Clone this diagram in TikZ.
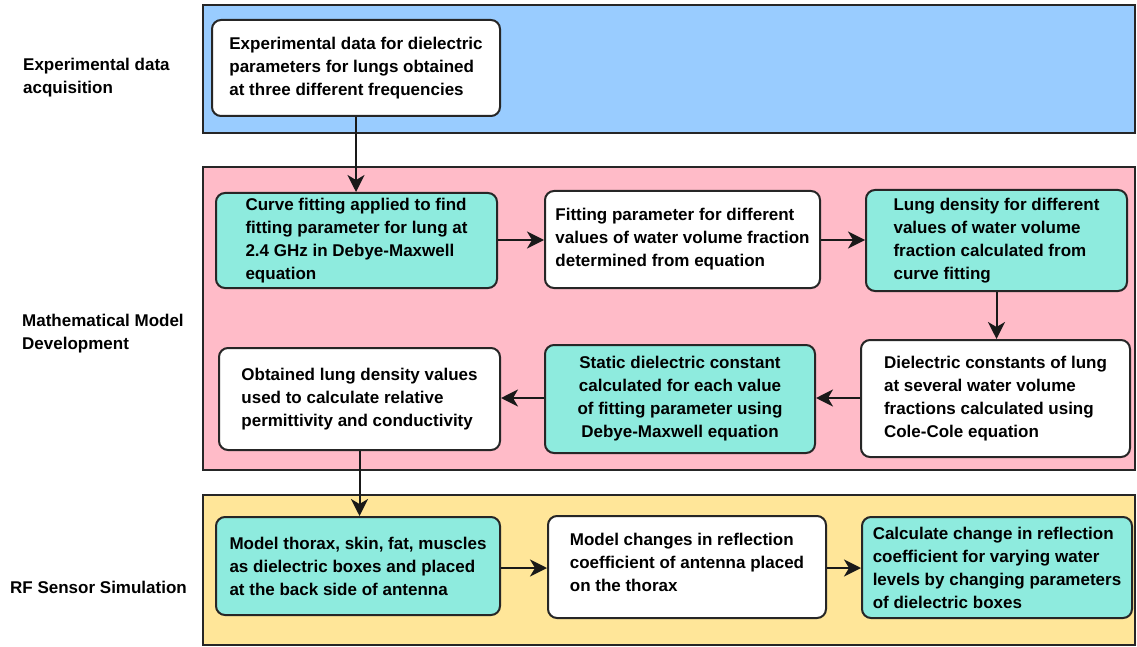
\documentclass[tikz,border=0pt]{standalone}
\usepackage{fontspec}
\setmainfont{Liberation Sans}
\usetikzlibrary{arrows.meta}
\definecolor{laneblue}{RGB}{153,204,255}
\definecolor{lanepink}{RGB}{255,187,200}
\definecolor{laneyellow}{RGB}{255,230,153}
\definecolor{teal}{RGB}{142,235,222}
\tikzset{
  lane/.style={draw=black!85, line width=2pt},
  box/.style={draw=black!85, line width=2pt, rounded corners=9pt, fill=white,
    font=\fontsize{17}{23}\selectfont\bfseries, align=left, inner sep=0pt},
  tealbox/.style={box, fill=teal},
  lanelabel/.style={font=\fontsize{17}{23}\selectfont\bfseries, align=left, anchor=west, inner sep=0pt},
  flow/.style={line width=2pt, draw=black!90, -{Stealth[length=17pt 0 0,width=17pt 0 0,inset=5pt 0]}}
}
\begin{document}
\begin{tikzpicture}[x=1pt,y=-1pt]
\useasboundingbox (0,0) rectangle (1137,647);
% lanes
\draw[lane, fill=laneblue] (203,5) rectangle (1135,133);
\draw[lane, fill=lanepink] (203,167) rectangle (1135,470);
\draw[lane, fill=laneyellow] (203,495) rectangle (1135,645);
% lane labels
\node[lanelabel] (l1) at (23,78) {Experimental data\\acquisition};
\node[lanelabel] (l2) at (22,334) {Mathematical Model\\Development};
\node[lanelabel] (l3) at (10,587) {RF Sensor Simulation};
% boxes
\node[box, minimum width=288pt, minimum height=96pt] (b1) at (356,68)
  {Experimental data for dielectric\\parameters for lungs obtained\\at three different frequencies};
\node[tealbox, minimum width=281pt, minimum height=95pt] (c1) at (356.5,240.5)
  {Curve fitting applied to find\\fitting parameter for lung at\\2.4 GHz in Debye-Maxwell\\equation};
\node[box, minimum width=275pt, minimum height=97pt] (c2) at (682.5,239.5)
  {Fitting parameter for different\\values of water volume fraction\\determined from equation};
\node[tealbox, minimum width=261pt, minimum height=101pt] (c3) at (996.5,240.5)
  {Lung density for different\\values of water volume\\fraction calculated from\\curve fitting};
\node[box, minimum width=269pt, minimum height=117pt] (c4) at (995.5,398.5)
  {Dielectric constants of lung\\at several water volume\\fractions calculated using\\Cole-Cole equation};
\node[tealbox, align=center, minimum width=270pt, minimum height=108pt] (c5) at (680,399)
  {Static dielectric constant\\calculated for each value\\of fitting parameter using\\Debye-Maxwell equation};
\node[box, minimum width=281pt, minimum height=102pt] (c6) at (359.5,399)
  {Obtained lung density values\\used to calculate relative\\permittivity and conductivity};
\node[tealbox, minimum width=284pt, minimum height=98pt] (d1) at (358,566)
  {Model thorax, skin, fat, muscles\\as dielectric boxes and placed\\at the back side of antenna};
\node[box, minimum width=278pt, minimum height=102pt] (d2) at (687,567)
  {Model changes in reflection\\coefficient of antenna placed\\on the thorax\\[-13pt]\phantom{x}};
\node[tealbox, minimum width=270pt, minimum height=101pt] (d3) at (997,567.5)
  {Calculate change in reflection\\coefficient for varying water\\levels by changing parameters\\of dielectric boxes};
% connectors
\draw[flow] (b1.south) -- (b1.south |- c1.north);
\draw[flow] (c1.east |- 0,240) -- (c2.west |- 0,240);
\draw[flow] (c2.east |- 0,240) -- (c3.west |- 0,240);
\draw[flow] (c3.south) -- (c3.south |- c4.north);
\draw[flow] (c4.west |- 0,398) -- (c5.east |- 0,398);
\draw[flow] (c5.west |- 0,398) -- (c6.east |- 0,398);
\draw[flow] (c6.south) -- (c6.south |- d1.north);
\draw[flow] (d1.east |- 0,568) -- (d2.west |- 0,568);
\draw[flow] (d2.east |- 0,568) -- (d3.west |- 0,568);
\end{tikzpicture}
\end{document}
